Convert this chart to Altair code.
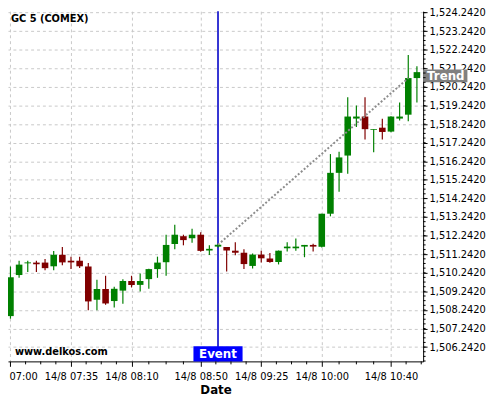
import altair as alt
import pandas as pd
import numpy as np

# ---- data ----
times = ["07:00", "07:05", "07:10", "07:15", "07:20", "07:25", "07:30", "07:35",
         "07:40", "07:45", "07:50", "07:55", "08:00", "08:05", "08:10", "08:15",
         "08:20", "08:25", "08:30", "08:35", "08:40", "08:45", "08:50", "08:55",
         "09:00", "09:05", "09:10", "09:15", "09:20", "09:25", "09:30", "09:35",
         "09:40", "09:45", "09:50", "09:55", "10:00", "10:05", "10:10", "10:15",
         "10:20", "10:25", "10:30", "10:35", "10:40", "10:45", "10:50", "10:55"]
opens = [1507.91, 1510.12, 1510.75, 1510.79, 1510.79, 1510.59, 1511.21, 1510.89,
         1510.89, 1510.58, 1508.79, 1509.37, 1508.72, 1509.28, 1509.80, 1509.59,
         1509.90, 1510.44, 1510.81, 1511.79, 1512.21, 1512.10, 1512.29, 1511.44,
         1511.65, 1511.63, 1511.43, 1511.32, 1510.61, 1511.22, 1511.01, 1510.82,
         1511.56, 1511.56, 1511.65, 1511.74, 1511.64, 1513.42, 1515.62, 1516.55,
         1518.54, 1518.65, 1517.93, 1518.05, 1517.84, 1518.54, 1518.75, 1520.72]
highs = [1510.58, 1510.89, 1510.89, 1510.89, 1510.98, 1511.42, 1511.63, 1511.10,
         1511.10, 1510.77, 1509.87, 1510.08, 1509.49, 1509.89, 1510.08, 1510.20,
         1510.46, 1511.11, 1512.29, 1512.82, 1512.29, 1512.61, 1512.42, 1511.72,
         1511.80, 1511.63, 1511.88, 1511.51, 1511.28, 1511.43, 1511.30, 1511.44,
         1511.88, 1512.09, 1511.74, 1511.81, 1513.42, 1516.63, 1516.75, 1519.69,
         1519.24, 1519.69, 1517.97, 1518.53, 1518.66, 1519.40, 1521.96, 1521.35]
lows = [1507.77, 1509.98, 1510.29, 1510.29, 1510.38, 1510.38, 1510.65, 1510.45,
        1510.50, 1508.23, 1508.23, 1508.52, 1508.37, 1508.58, 1509.45, 1509.24,
        1509.38, 1509.97, 1510.08, 1511.51, 1511.72, 1511.86, 1511.37, 1511.20,
        1511.60, 1510.31, 1511.18, 1510.45, 1510.47, 1510.80, 1510.78, 1510.69,
        1511.39, 1511.43, 1511.08, 1511.39, 1511.60, 1513.28, 1514.60, 1515.57,
        1518.09, 1517.41, 1516.73, 1517.41, 1517.80, 1518.44, 1518.40, 1519.40]
closes = [1510.00, 1510.68, 1510.80, 1510.70, 1510.49, 1511.21, 1510.80, 1510.80,
          1510.59, 1508.70, 1509.37, 1508.59, 1509.38, 1509.80, 1509.59, 1509.80,
          1510.44, 1510.79, 1511.74, 1512.29, 1512.00, 1512.29, 1511.42, 1511.53,
          1511.75, 1511.44, 1511.32, 1510.71, 1511.22, 1511.02, 1510.82, 1511.43,
          1511.65, 1511.65, 1511.74, 1511.65, 1513.42, 1515.62, 1516.45, 1518.65,
          1518.65, 1517.97, 1517.97, 1517.82, 1518.65, 1518.65, 1520.72, 1521.04]

event_times = ["09:00"]
event_labels = ["Event"]
trend_times = ["09:00", "10:50"]
trend_prices = [1511.75, 1520.72]
trend_label_price = [1520.84]
trend_labels = ["Trend"]

x_tick_times = ["07:00", "07:35", "08:10", "08:50", "09:25", "10:00", "10:40"]
y_tick_values = [1506.242 + i for i in range(19)]

chart_title = "GC 5 (COMEX)"
watermark = "www.delkos.com"


def to_min(s):
    return (int(s[:2]) - 7) * 60 + int(s[3:])


df = pd.DataFrame({"t": [to_min(s) for s in times], "open": opens,
                   "high": highs, "low": lows, "close": closes})
df["dir"] = np.where(df["close"] >= df["open"], "up", "down")

major_x = [to_min(s) for s in x_tick_times]
minor_x = []
for a, b in zip(major_x[:-1], major_x[1:]):
    minor_x += [a + (b - a) * k / 4 for k in (1, 2, 3)]
minor_x += [major_x[-1] + 35 * k / 4 for k in (1, 2)]
minor_y = [1505.492 + 0.25 * i for i in range(76)]

W, H = 422, 356
xscale = alt.Scale(domain=[-1.42, 238.6], nice=False, zero=False)
yscale = alt.Scale(domain=[1505.472, 1524.32], nice=False, zero=False)
FONT = "DejaVu Sans"

xaxis = alt.Axis(values=major_x, title="Date",
                 labelExpr="'14/8 ' + timeFormat(datetime(2015, 7, 14, 7, datum.value), '%H:%M')",
                 grid=True, gridColor="#c8c8c8", gridDash=[3, 3], gridWidth=1,
                 tickSize=5, tickColor="black", domainColor="black",
                 labelFont=FONT, labelFontSize=10, labelColor="black",
                 labelFlush=False, labelOverlap=False, labelBound=False, labelPadding=5,
                 titleFont=FONT, titleFontSize=12, titleFontWeight="bold",
                 titleColor="black", titlePadding=4)
yaxis = alt.Axis(orient="right", values=y_tick_values, format=",.4f", title=None,
                 grid=True, gridColor="#c8c8c8", gridDash=[3, 3], gridWidth=1,
                 tickSize=4, tickColor="black", domainColor="black",
                 labelFont=FONT, labelFontSize=10, labelColor="black",
                 labelFlush=False, labelOverlap=False, labelPadding=2)


def X(field):
    return alt.X(field, scale=xscale, axis=xaxis)


def Y(field):
    return alt.Y(field, scale=yscale, axis=yaxis)


color = alt.Color("dir:N", scale=alt.Scale(domain=["up", "down"],
                                           range=["#008000", "#800000"]), legend=None)

base = alt.Chart(df)
wicks = base.mark_rule(strokeWidth=1.2).encode(
    x=X("t:Q"), y=Y("low:Q"), y2="high:Q", color=color)
bodies = base.transform_calculate(
    x0="datum.t - 1.9", x1="datum.t + 1.9").mark_rect().encode(
    x=X("x0:Q"), x2="x1:Q", y=Y("open:Q"), y2="close:Q", color=color)

ev_df = pd.DataFrame({"t": [to_min(s) for s in event_times], "label": event_labels})
event_rule = alt.Chart(ev_df).mark_rule(color="#0000c8", strokeWidth=1.6).encode(
    x=X("t:Q"))
event_box = alt.Chart(ev_df).transform_calculate(
    x0="datum.t - 14.2", x1="datum.t + 14.2").mark_rect(color="#0000ff").encode(
    x=X("x0:Q"), x2="x1:Q", y=alt.value(H - 15.5), y2=alt.value(H))
event_text = alt.Chart(ev_df).mark_text(
    font=FONT, fontSize=12, fontWeight="bold", color="white",
    align="center", baseline="alphabetic").encode(
    x=X("t:Q"), y=alt.value(H - 3), text="label:N")

tr_df = pd.DataFrame({"t": [to_min(s) for s in trend_times], "p": trend_prices})
trend = alt.Chart(tr_df).mark_line(color="#8c8c8c", strokeWidth=2,
                                   strokeDash=[2, 2], strokeCap="butt").encode(
    x=X("t:Q"), y=Y("p:Q"))

tl_df = pd.DataFrame({"p": trend_label_price, "label": trend_labels})
trend_box = alt.Chart(tl_df).transform_calculate(
    p0="datum.p - 0.34", p1="datum.p + 0.34").mark_rect(color="#808080").encode(
    x=alt.value(W), x2=alt.value(W + 45), y=Y("p1:Q"), y2="p0:Q")
trend_text = alt.Chart(tl_df).mark_text(
    font=FONT, fontSize=12, fontWeight="bold", color="white",
    align="left", baseline="middle", dy=0.5).encode(
    x=alt.value(W + 4), y=Y("p:Q"), text="label:N")

my_df = pd.DataFrame({"p": minor_y})
minor_y_ticks = alt.Chart(my_df).mark_rule(color="black", strokeWidth=1).encode(
    x=alt.value(W), x2=alt.value(W + 2.5), y=Y("p:Q"))
mx_df = pd.DataFrame({"t": minor_x})
minor_x_ticks = alt.Chart(mx_df).mark_rule(color="black", strokeWidth=1).encode(
    x=X("t:Q"), y=alt.value(H), y2=alt.value(H + 3))

title_df = pd.DataFrame({"text": [chart_title]})
title = alt.Chart(title_df).mark_text(
    font=FONT, fontSize=10, fontWeight="bold", color="black",
    align="left", baseline="alphabetic").encode(
    x=alt.value(3), y=alt.value(10.5), text="text:N")
wm_df = pd.DataFrame({"text": [watermark]})
wm = alt.Chart(wm_df).mark_text(
    font=FONT, fontSize=10, fontWeight="bold", color="black",
    align="left", baseline="alphabetic").encode(
    x=alt.value(7), y=alt.value(349), text="text:N")

chart = alt.layer(
    event_rule, wicks, bodies, trend, event_box, event_text,
    trend_box, trend_text, minor_y_ticks, minor_x_ticks, title, wm
).properties(
    width=W, height=H,
    background="white",
    autosize=alt.AutoSizeParams(type="none"),
    padding={"left": 0, "top": 0, "right": 70, "bottom": 36},
).configure_view(stroke=None)

chart.save("out.html", embed_options={"renderer": "svg", "actions": False})
